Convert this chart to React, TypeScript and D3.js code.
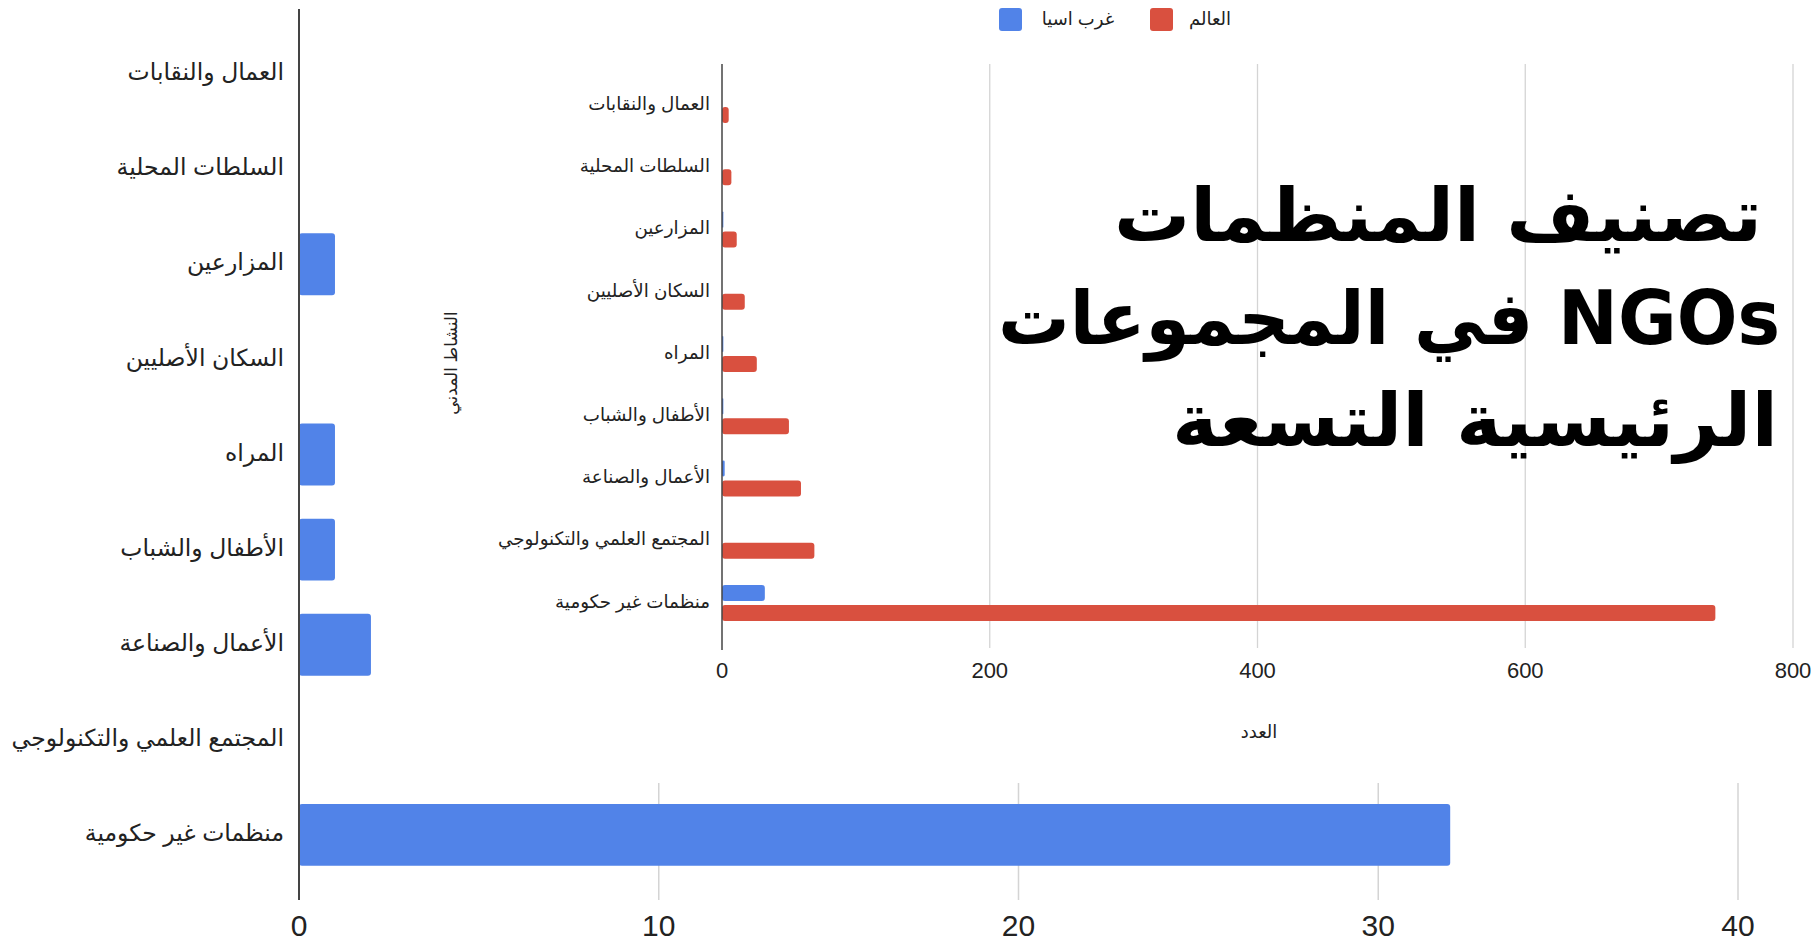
import React from 'react';
import * as d3 from 'd3';

const categories = [
  'العمال والنقابات',
  'السلطات المحلية',
  'المزارعين',
  'السكان الأصليين',
  'المراه',
  'الأطفال والشباب',
  'الأعمال والصناعة',
  'المجتمع العلمي والتكنولوجي',
  'منظمات غير حكومية',
];
const westAsia = [0, 0, 1, 0, 1, 1, 2, 0, 32];
const world = [5, 7, 11, 17, 26, 50, 59, 69, 742];
const seriesNames = ['غرب اسيا', 'العالم'];
const bigTicks = [0, 10, 20, 30, 40];
const innerTicks = [0, 200, 400, 600, 800];
const titleLines = ['تصنيف المنظمات', 'NGOs في المجموعات', 'الرئيسية التسعة'];
const xAxisTitle = 'العدد';
const yAxisTitle = 'النشاط المدني';

const BLUE = '#5183e8';
const RED = '#d9503f';
const GRID = '#d4d4d4';
const AXIS = '#444';
const FONT = "'Liberation Sans', Arial, 'DejaVu Sans', sans-serif";

export default function App() {
  const W = 1816;
  const H = 945;

  // Background (big) chart: West Asia only
  const xBig = d3.scaleLinear().domain([0, 40]).range([299, 1738]);
  const yBig = d3
    .scaleBand<string>()
    .domain(categories)
    .range([26.5, 882.5])
    .paddingInner(0.35)
    .paddingOuter(0.175);

  // Inset chart: both series
  const xIn = d3.scaleLinear().domain([0, 800]).range([722, 1793]);
  const yIn = d3.scaleBand<string>().domain(categories).range([74, 634]).padding(0);
  const ySub = d3
    .scaleBand<string>()
    .domain(['westAsia', 'world'])
    .range([-18, 18])
    .paddingInner(0.2);

  const titleWidths = [648, 782, 606];
  const titleRight = [1762, 1780, 1778];
  const titleBase = [241, 344, 446];

  return (
    <svg
      width={W}
      height={H}
      style={{ position: 'fixed', left: 0, top: 0, background: '#fff' }}
      fontFamily={FONT}
    >
      <rect x={0} y={0} width={W} height={H} fill="#fff" />

      {/* big chart gridlines */}
      {bigTicks.slice(1).map((t) => (
        <line key={'bg' + t} x1={xBig(t)} x2={xBig(t)} y1={9} y2={900} stroke={GRID} strokeWidth={1.5} />
      ))}
      {/* big chart bars */}
      {categories.map((c, i) =>
        westAsia[i] > 0 ? (
          <rect
            key={'bb' + i}
            x={xBig(0)}
            y={yBig(c)!}
            width={xBig(westAsia[i]) - xBig(0)}
            height={yBig.bandwidth()}
            rx={3}
            fill={BLUE}
          />
        ) : null
      )}
      {/* big chart category labels */}
      {categories.map((c) => (
        <text
          key={'bl' + c}
          x={284}
          y={yBig(c)! + yBig.bandwidth() / 2}
          textAnchor="end"
          dominantBaseline="middle"
          fontSize={23.5}
          fill="#222"
        >
          {c}
        </text>
      ))}
      {/* big chart tick labels */}
      {bigTicks.map((t) => (
        <text key={'bt' + t} x={xBig(t)} y={936} textAnchor="middle" fontSize={30} fill="#222">
          {t}
        </text>
      ))}

      {/* inset white box */}
      <rect x={400} y={0} width={W - 400} height={783} fill="#fff" />

      {/* big chart axis line */}
      <line x1={xBig(0)} x2={xBig(0)} y1={9} y2={900} stroke={AXIS} strokeWidth={2} />

      {/* inset gridlines */}
      {innerTicks.slice(1).map((t) => (
        <line key={'ig' + t} x1={xIn(t)} x2={xIn(t)} y1={64} y2={648} stroke={GRID} strokeWidth={1.3} />
      ))}
      {/* inset bars */}
      {categories.map((c, i) => {
        const cy = yIn(c)! + yIn.bandwidth() / 2;
        return (
          <g key={'ib' + i}>
            {westAsia[i] > 0 && (
              <rect
                x={xIn(0)}
                y={cy + ySub('westAsia')!}
                width={xIn(westAsia[i]) - xIn(0)}
                height={ySub.bandwidth()}
                rx={Math.min(3, (xIn(westAsia[i]) - xIn(0)) / 2)}
                fill={BLUE}
              />
            )}
            <rect
              x={xIn(0)}
              y={cy + ySub('world')!}
              width={xIn(world[i]) - xIn(0)}
              height={ySub.bandwidth()}
              rx={3}
              fill={RED}
            />
          </g>
        );
      })}
      <line x1={xIn(0)} x2={xIn(0)} y1={64} y2={650} stroke={AXIS} strokeWidth={1.5} />
      {/* inset category labels */}
      {categories.map((c) => (
        <text
          key={'il' + c}
          x={710}
          y={yIn(c)! + yIn.bandwidth() / 2}
          textAnchor="end"
          dominantBaseline="middle"
          fontSize={18.3}
          fill="#222"
        >
          {c}
        </text>
      ))}
      {/* inset tick labels */}
      {innerTicks.map((t) => (
        <text key={'it' + t} x={xIn(t)} y={678} textAnchor="middle" fontSize={22} fill="#222">
          {t}
        </text>
      ))}
      {/* axis titles */}
      <text x={1259} y={733} textAnchor="middle" dominantBaseline="middle" fontSize={18} fill="#222">
        {xAxisTitle}
      </text>
      <text
        transform={`translate(453,363) rotate(-90)`}
        textAnchor="middle"
        dominantBaseline="middle"
        fontSize={17}
        fill="#222"
      >
        {yAxisTitle}
      </text>

      {/* legend */}
      <rect x={999} y={8} width={23} height={23} rx={3} fill={BLUE} />
      <text x={1078} y={20} textAnchor="middle" dominantBaseline="middle" fontSize={18} fill="#222">
        {seriesNames[0]}
      </text>
      <rect x={1150} y={8} width={23} height={23} rx={3} fill={RED} />
      <text x={1210} y={20} textAnchor="middle" dominantBaseline="middle" fontSize={18} fill="#222">
        {seriesNames[1]}
      </text>

      {/* title */}
      {titleLines.map((l, i) => (
        <text
          key={'t' + i}
          x={titleRight[i]}
          y={titleBase[i]}
          direction="rtl"
          textAnchor="start"
          fontSize={74}
          fontWeight="bold"
          fontFamily="'DejaVu Sans', sans-serif"
          textLength={titleWidths[i]}
          lengthAdjust="spacingAndGlyphs"
          fill="#000"
        >
          {l}
        </text>
      ))}
    </svg>
  );
}
